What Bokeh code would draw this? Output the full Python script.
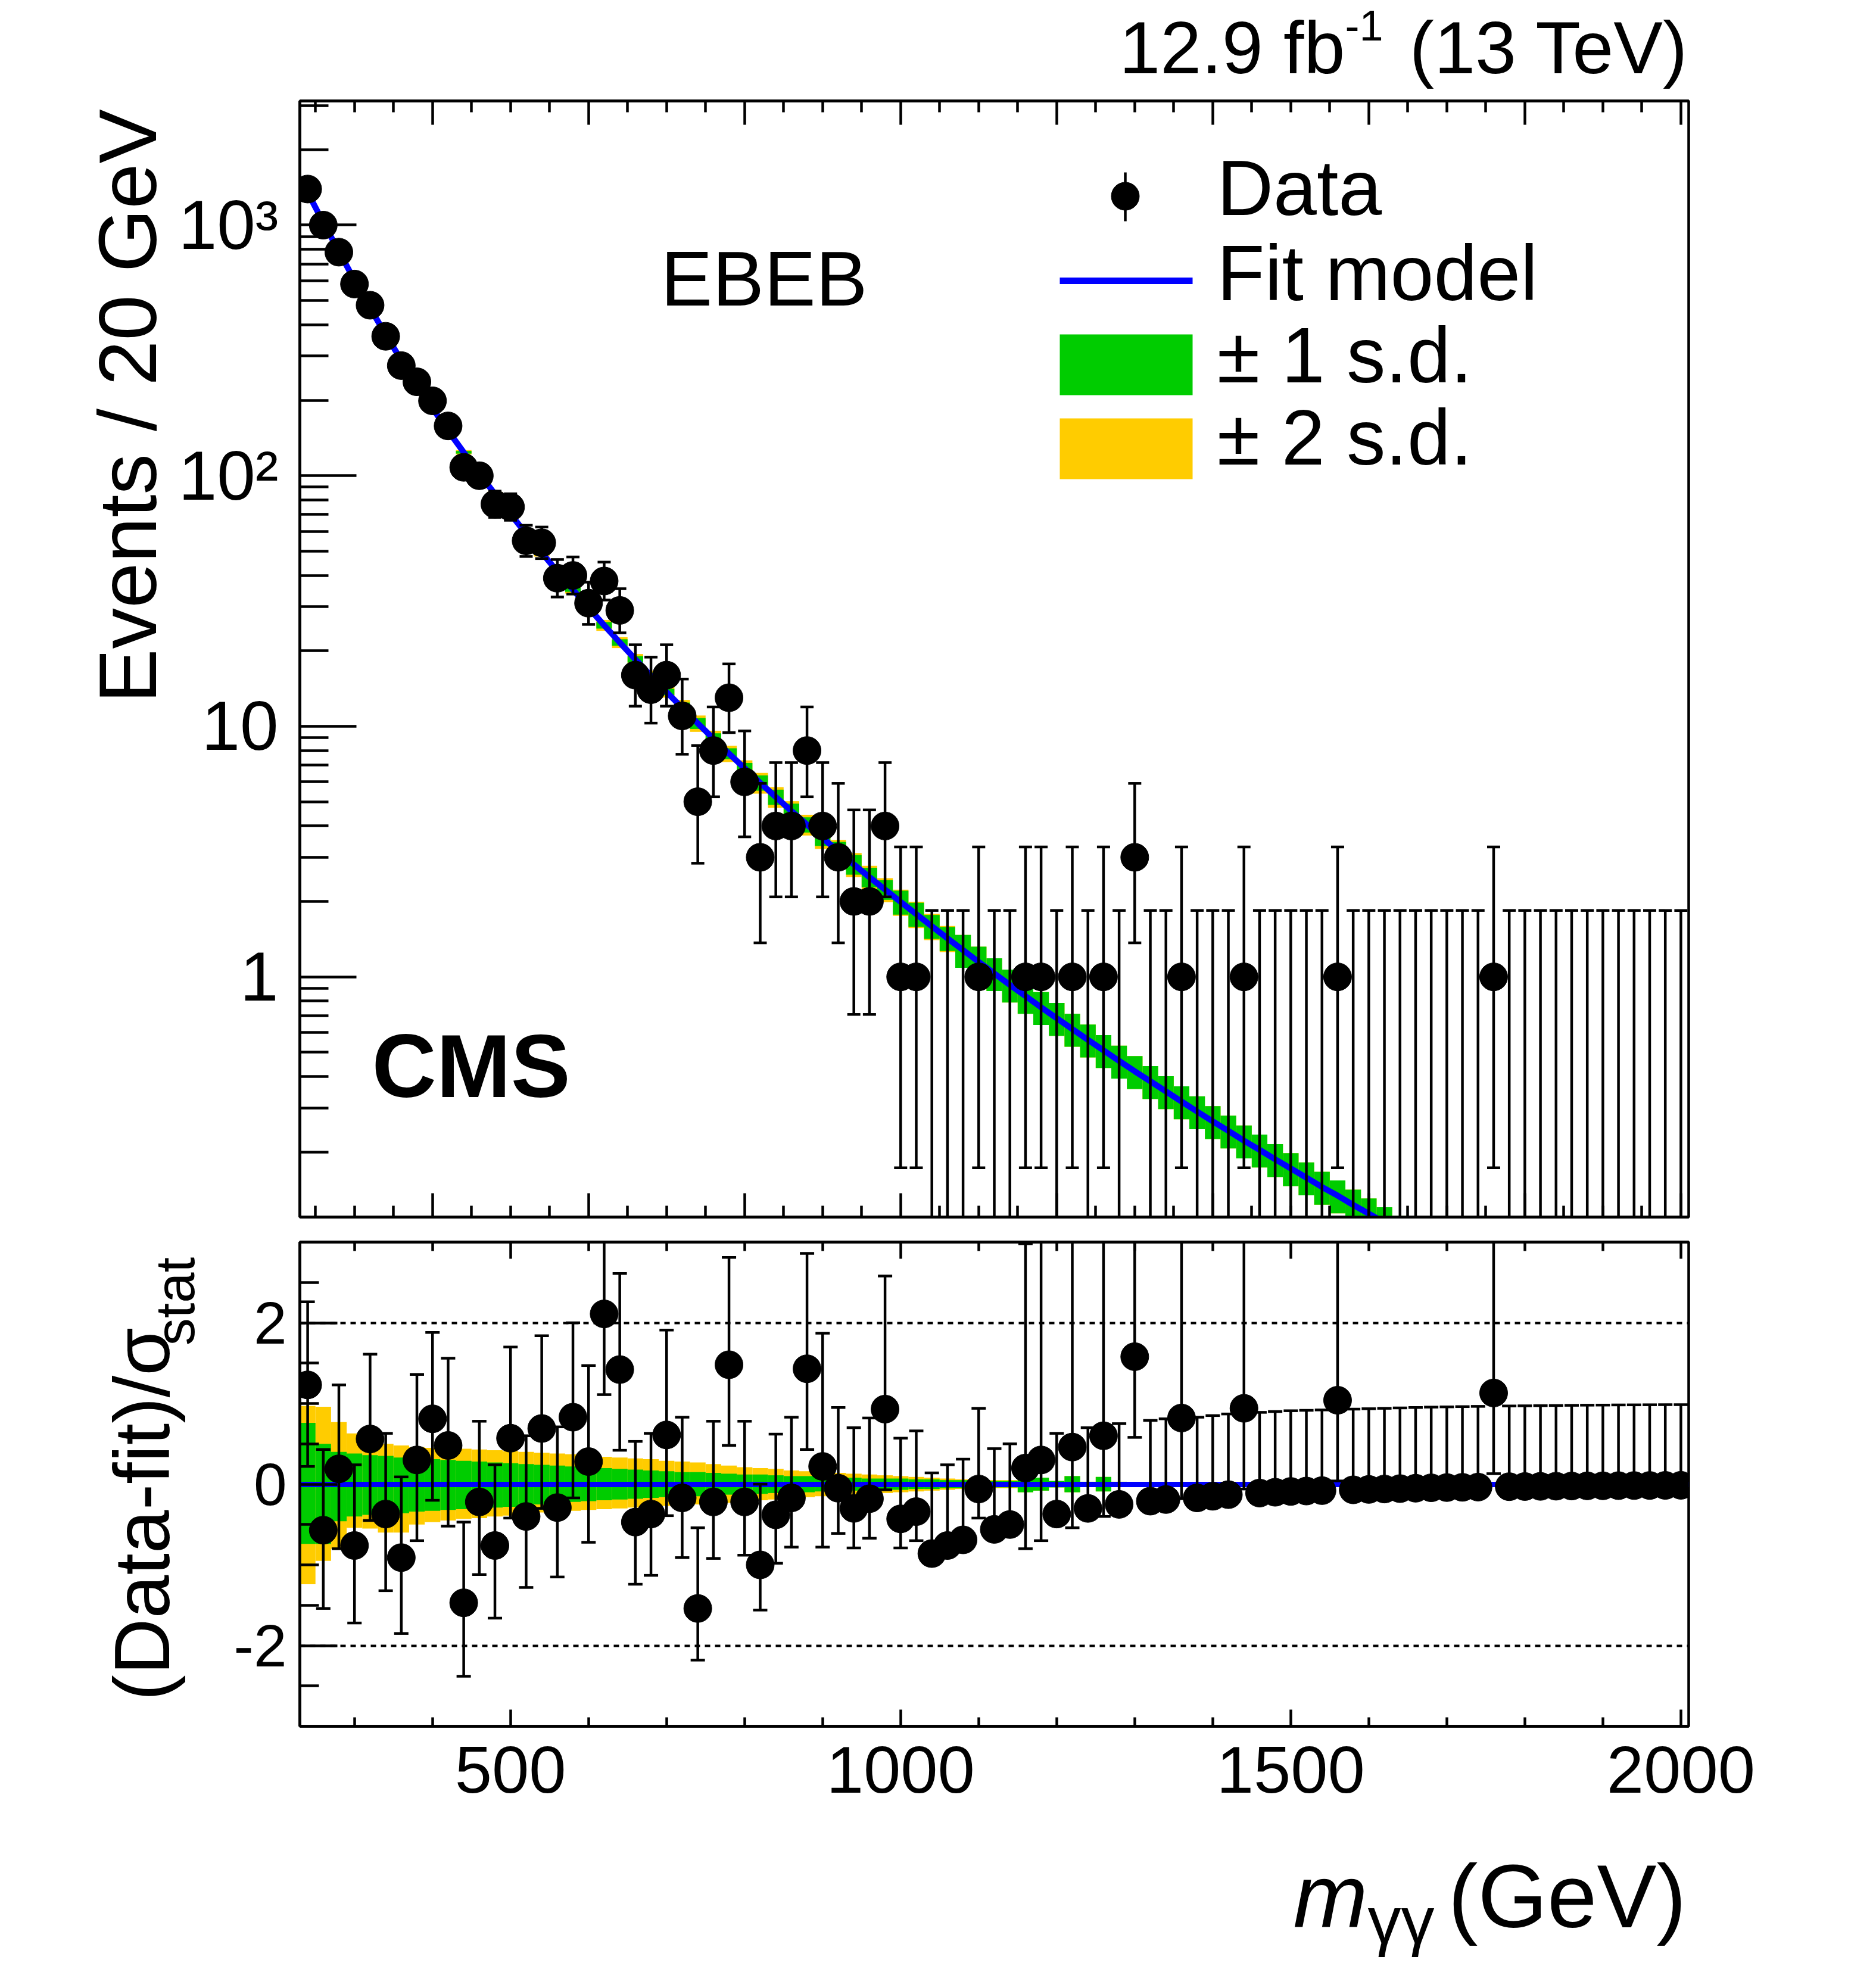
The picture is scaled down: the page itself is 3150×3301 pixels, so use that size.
import math
from bokeh.plotting import figure
from bokeh.models import FixedTicker, LinearAxis, Label
from bokeh.layouts import column, row
from bokeh.embed import file_html
from bokeh.resources import INLINE

# ------------------------------------------------------------------ data
BIN_WIDTH = 20
mass = list(range(240, 2001, BIN_WIDTH))          # bin centres (GeV)

counts = [1393, 1000, 780, 582, 479, 360, 275, 237, 199, 158,
          108, 100, 77, 75, 55, 54, 39, 40, 31, 38,
          29, 16, 14, 16, 11, 5, 8, 13, 6, 3,
          4, 4, 8, 4, 3, 2, 2, 4, 1, 1,
          0, 0, 0, 1, 0, 0, 1, 1, 0, 1,
          0, 1, 0, 3, 0, 0, 1, 0, 0, 0,
          1, 0, 0, 0, 0, 0, 1, 0, 0, 0,
          0, 0, 0, 0, 0, 0, 1, 0, 0, 0,
          0, 0, 0, 0, 0, 0, 0, 0, 0]

# statistical (Poisson 68%) errors for the high-count bins
err_lo_high = [37.3, 31.6, 27.9, 24.1, 21.9, 19.0, 16.6, 15.4, 14.1, 12.6,
               10.4, 10.0, 8.8, 8.6, 7.4, 7.3, 6.2, 6.3, 5.5, 6.1, 5.4]
err_hi_high = [38.4, 32.6, 28.9, 25.1, 22.9, 20.0, 17.6, 16.4, 15.1, 13.6,
               11.4, 11.0, 9.8, 9.7, 8.4, 8.4, 7.3, 7.4, 6.6, 7.2, 6.4]
# Poisson 68% intervals for small counts
poisson_small = {0: (0.0, 1.841), 1: (0.827, 2.300), 2: (1.292, 2.638),
                 3: (1.633, 2.918), 4: (1.914, 3.162), 5: (2.159, 3.382),
                 6: (2.379, 3.583), 8: (2.768, 3.945), 11: (3.265, 4.434),
                 13: (3.563, 4.734), 14: (3.704, 4.877), 16: (3.972, 5.149)}

fit_model = [1350, 1025, 785, 603, 467, 366, 289, 230, 186, 151,
             124, 102, 84.5, 70.3, 58.7, 49.3, 41.5, 35.1, 29.7, 25.3,
             21.6, 18.5, 15.9, 13.7, 11.85, 10.27, 8.93, 7.78, 6.80, 5.95,
             5.22, 4.59, 4.05, 3.58, 3.17, 2.81, 2.50, 2.23, 1.99, 1.78,
             1.592, 1.425, 1.278, 1.147, 1.032, 0.929, 0.838, 0.756, 0.684, 0.619,
             0.561, 0.509, 0.462, 0.420, 0.383, 0.349, 0.318, 0.290, 0.265, 0.243,
             0.222, 0.204, 0.187, 0.172, 0.158, 0.145, 0.134, 0.123, 0.1135, 0.1047,
             0.0967, 0.0894, 0.0827, 0.0765, 0.0708, 0.0656, 0.0609, 0.0565, 0.0524, 0.0487,
             0.0453, 0.0421, 0.0392, 0.0365, 0.0340, 0.0317, 0.0296, 0.0276, 0.0258]

# relative half-widths of the fit uncertainty bands (upper panel)
band1_rel = ([0.012] * 13 + [0.02] * 6 + [0.03] * 5 + [0.05] * 5 + [0.07] * 5 +
             [0.09] * 4 + [0.11] * 4 + [0.15] * 47)
band2_rel = ([0.02] * 13 + [0.035] * 6 + [0.05] * 5 + [0.075] * 5 + [0.095] * 5 +
             [0.11] * 4 + [0.12] * 4 + [0.15] * 47)

# (data - fit) / sigma_stat
pull = [1.23, -0.57, 0.19, -0.76, 0.56, -0.37, -0.91, 0.30, 0.81, 0.48,
        -1.47, -0.22, -0.76, 0.57, -0.40, 0.69, -0.29, 0.83, 0.28, 2.11,
        1.42, -0.47, -0.37, 0.61, -0.17, -1.54, -0.22, 1.48, -0.22, -1.00,
        -0.38, -0.17, 1.43, 0.22, -0.05, -0.30, -0.18, 0.93, -0.43, -0.34,
        -0.86, -0.76, -0.69, -0.06, -0.56, -0.50, 0.20, 0.30, -0.37, 0.46,
        -0.30, 0.60, -0.25, 1.58, -0.21, -0.19, 0.82, -0.17, -0.15, -0.13,
        0.94, -0.11, -0.10, -0.09, -0.085, -0.08, 1.04, -0.07, -0.065, -0.06,
        -0.055, -0.05, -0.045, -0.042, -0.039, -0.036, 1.13, -0.031, -0.029, -0.027,
        -0.025, -0.023, -0.021, -0.020, -0.018, -0.017, -0.016, -0.015, -0.014]
pull_lo = [1.01, 0.97, 0.99, 0.96, 1.01, 0.95, 0.94, 1.00, 1.01, 1.00,
           0.91, 0.90, 0.90, 0.99, 0.88, 0.99, 0.86, 1.00, 1.00, 1.00,
           1.00, 0.77, 0.76, 1.00, 0.74, 0.64, 0.70, 1.00, 0.66, 0.56,
           0.60, 0.61, 1.00, 1.00, 0.56, 0.49, 0.49, 1.00, 0.36, 0.36,
           0, 0, 0, 0.36, 0, 0, 1.0, 1.0, 0, 1.0,
           0, 1.0, 0, 1.0, 0, 0, 1.0, 0, 0, 0,
           1.0, 0, 0, 0, 0, 0, 1.0, 0, 0, 0,
           0, 0, 0, 0, 0, 0, 1.0, 0, 0, 0,
           0, 0, 0, 0, 0, 0, 0, 0, 0]
pull_hi = [1.03, 1.00, 1.04, 1.00, 1.05, 1.00, 1.00, 1.06, 1.07, 1.08,
           1.00, 1.00, 1.00, 1.13, 1.00, 1.15, 1.00, 1.17, 1.19, 1.18,
           1.19, 1.00, 1.00, 1.30, 1.00, 1.00, 1.00, 1.33, 1.00, 1.00,
           1.00, 1.00, 1.43, 1.65, 1.00, 1.00, 1.00, 1.65, 1.00, 1.00,
           1, 1, 1, 1.0, 1, 1, 2.78, 2.78, 1, 2.78,
           1, 2.78, 1, 1.79, 1, 1, 2.78, 1, 1, 1,
           2.78, 1, 1, 1, 1, 1, 2.78, 1, 1, 1,
           1, 1, 1, 1, 1, 1, 2.78, 1, 1, 1,
           1, 1, 1, 1, 1, 1, 1, 1, 1]

# fit uncertainty bands in units of sigma_stat (lower panel)
pband1_up = [0.76, 0.50, 0.40, 0.38, 0.36, 0.35, 0.33, 0.32, 0.31, 0.30,
             0.29, 0.28, 0.27, 0.26, 0.25, 0.24, 0.23, 0.22, 0.21, 0.20,
             0.19, 0.18, 0.17, 0.16, 0.15, 0.15, 0.14, 0.13, 0.12, 0.12,
             0.11, 0.10, 0.10, 0.09, 0.08, 0.08, 0.07, 0.07, 0.07, 0.06,
             0.06, 0.05, 0.05, 0.05, 0.04, 0.04, 0.10, 0.08, 0.04, 0.10,
             0.03, 0.09, 0.03, 0.02, 0.02, 0.02] + [0.0] * 33
pband1_dn = [0.74, 0.74, 0.46, 0.40, 0.38, 0.37, 0.36, 0.34, 0.33, 0.32,
             0.31, 0.30, 0.29, 0.28, 0.26, 0.25, 0.24, 0.22, 0.21, 0.20,
             0.19, 0.18, 0.17, 0.16, 0.15, 0.15, 0.14, 0.13, 0.12, 0.12,
             0.11, 0.10, 0.10, 0.09, 0.08, 0.08, 0.07, 0.07, 0.07, 0.06,
             0.06, 0.05, 0.05, 0.05, 0.04, 0.04, 0.10, 0.08, 0.04, 0.10,
             0.03, 0.09, 0.03, 0.02, 0.02, 0.02] + [0.0] * 33
pband2_up = [0.97, 0.96, 0.77, 0.63, 0.60, 0.50, 0.48, 0.46, 0.45, 0.45,
             0.44, 0.43, 0.42, 0.41, 0.40, 0.39, 0.38, 0.37, 0.35, 0.34,
             0.33, 0.32, 0.31, 0.29, 0.28, 0.27, 0.25, 0.23, 0.21, 0.20,
             0.19, 0.17, 0.16, 0.15, 0.14, 0.13, 0.12, 0.11, 0.10, 0.09,
             0.08, 0.07, 0.06, 0.06, 0.05, 0.05, 0.10, 0.08, 0.04, 0.10,
             0.03, 0.09, 0.03, 0.02, 0.02, 0.02] + [0.0] * 33
pband2_dn = [1.24, 0.95, 0.80, 0.54, 0.55, 0.60, 0.60, 0.50, 0.47, 0.45,
             0.43, 0.42, 0.40, 0.39, 0.37, 0.35, 0.34, 0.33, 0.32, 0.31,
             0.30, 0.29, 0.28, 0.27, 0.26, 0.25, 0.24, 0.23, 0.22, 0.20,
             0.19, 0.17, 0.16, 0.15, 0.14, 0.13, 0.12, 0.11, 0.10, 0.09,
             0.08, 0.07, 0.06, 0.06, 0.05, 0.05, 0.10, 0.08, 0.04, 0.10,
             0.03, 0.09, 0.03, 0.02, 0.02, 0.02] + [0.0] * 33

ref_levels = [-2, 2]

upper_y_labels = {1: "1", 10: "10", 100: "10\u00b2", 1000: "10\u00b3"}
lower_y_labels = {-2: "-2", 0: "0", 2: "2"}
lower_x_labels = {500: "500", 1000: "1000", 1500: "1500", 2000: "2000"}

# ------------------------------------------------------------------ style / layout (page pixels)
FONT = "Liberation Sans"
GREEN = "#00cc00"
YELLOW = "#ffcc00"
BLUE = "#0000ff"
LW = 4.5
X_RANGE = (230, 2010)
Y_RANGE = (0.11, 3130)
PULL_RANGE = (-3, 3)
PAGE_W = 3130
FRAME_L, FRAME_R = 503, 2835
TOP_T, TOP_B = 169, 2043
BOT_T, BOT_B = 2085, 2898
HEAD_H = 149                 # title strip height
L1_W, L2_W = 296, 378        # widths of the strips holding the y titles
P1_PAD_T, P1_PAD_B = TOP_T - HEAD_H, 20
P2_PAD_T = BOT_T - (TOP_B + P1_PAD_B)
P2_PAD_B = 185
FOOT_T = BOT_B + P2_PAD_B
FOOT_H = 215
BASE_SHIFT = 0.34            # label anchor -> alphabetic baseline offset (in em)

LOG_T, LOG_B = math.log10(Y_RANGE[1]), math.log10(Y_RANGE[0])


def x_of(px):
    return X_RANGE[0] + (px - FRAME_L) * (X_RANGE[1] - X_RANGE[0]) / (FRAME_R - FRAME_L)


def ytop_of(py):
    return 10 ** (LOG_T - (py - TOP_T) * (LOG_T - LOG_B) / (TOP_B - TOP_T))


def style_axis(ax, ticker, major_len, minor_len, labels=None, size=None, standoff=0):
    ax.ticker = ticker
    ax.major_tick_in = major_len
    ax.major_tick_out = 0
    ax.minor_tick_in = minor_len
    ax.minor_tick_out = 0
    ax.major_tick_line_width = LW
    ax.minor_tick_line_width = LW
    ax.major_tick_line_color = "black"
    ax.minor_tick_line_color = "black"
    ax.axis_line_width = LW
    ax.axis_line_color = "black"
    ax.major_label_text_font = FONT
    ax.major_label_standoff = standoff
    if size is None:
        ax.major_label_text_color = None
        ax.major_label_text_font_size = "1px"
    else:
        ax.major_label_text_color = "black"
        ax.major_label_text_font_size = size
    if labels:
        ax.major_label_overrides = labels


def plot_fig(frame_h, pad_l, pad_t, pad_b, y_type, y_range):
    p = figure(x_range=X_RANGE, y_range=y_range, y_axis_type=y_type,
               frame_width=FRAME_R - FRAME_L, frame_height=frame_h,
               min_border_left=pad_l, min_border_right=PAGE_W - FRAME_R,
               min_border_top=pad_t, min_border_bottom=pad_b,
               output_backend="svg", toolbar_location=None)
    p.xgrid.visible = False
    p.ygrid.visible = False
    p.outline_line_color = "black"
    p.outline_line_width = LW
    p.background_fill_color = "white"
    p.border_fill_color = "white"
    return p


def text_fig(w, h):
    f = figure(width=w, height=h, x_range=(0, w), y_range=(h, 0), min_border=0,
               x_axis_type=None, y_axis_type=None, toolbar_location=None,
               output_backend="svg")
    f.outline_line_color = None
    f.background_fill_color = "white"
    f.border_fill_color = "white"
    return f


def label(p, text, x, y, size, align="left", angle=0, style="normal"):
    p.add_layout(Label(x=x, y=y, text=text, text_font=FONT,
                       text_font_size=f"{size}px", text_align=align,
                       text_baseline="alphabetic", angle=angle, angle_units="deg",
                       text_font_style=style, text_color="black"))


def flat_text(p, text, px, base_py, y0, size, align="left", style="normal"):
    """horizontal text in a strip whose top is at page y0 (y grows downwards)"""
    label(p, text, px, base_py - y0 - BASE_SHIFT * size, size, align, 0, style)


def frame_text(p, text, px, base_py, size, align="left", style="normal"):
    label(p, text, x_of(px), ytop_of(base_py - BASE_SHIFT * size), size, align, 0, style)


def vert_text(p, text, base_px, end_py, y0, size):
    label(p, text, base_px - BASE_SHIFT * size, end_py - y0, size, "right", 90)


half = BIN_WIDTH / 2
left = [m - half for m in mass]
right = [m + half for m in mass]

# ------------------------------------------------------------------ title strip
head = text_fig(PAGE_W, HEAD_H)
flat_text(head, "12.9 fb", 2258, 122, 0, 124, "right")
flat_text(head, "-1", 2258, 67, 0, 72)
flat_text(head, "(13 TeV)", 2835, 122, 0, 124, "right")

# ------------------------------------------------------------------ upper panel
p1 = plot_fig(TOP_B - TOP_T, FRAME_L - L1_W, P1_PAD_T, P1_PAD_B, "log", Y_RANGE)

up_major = list(range(400, 2001, 200))
up_minor = [v for v in range(250, 2001, 50) if v % 200]
style_axis(p1.xaxis[0], FixedTicker(ticks=up_major, minor_ticks=up_minor), 40, 19)
top_ax1 = LinearAxis()
style_axis(top_ax1, FixedTicker(ticks=up_major, minor_ticks=up_minor), 40, 19)
p1.add_layout(top_ax1, "above")

y_minor = [m * 10 ** e for e in (-1, 0, 1, 2) for m in range(2, 10)] + [2000, 3000]
style_axis(p1.yaxis[0], FixedTicker(ticks=list(upper_y_labels), minor_ticks=y_minor),
           95, 48, upper_y_labels, "116px", 36)

y2_lo = [f * (1 - r) for f, r in zip(fit_model, band2_rel)]
y2_hi = [f * (1 + r) for f, r in zip(fit_model, band2_rel)]
y1_lo = [f * (1 - r) for f, r in zip(fit_model, band1_rel)]
y1_hi = [f * (1 + r) for f, r in zip(fit_model, band1_rel)]
p1.quad(left=left, right=right, bottom=y2_lo, top=y2_hi, fill_color=YELLOW, line_color=None)
p1.quad(left=left, right=right, bottom=y1_lo, top=y1_hi, fill_color=GREEN, line_color=None)
p1.line(mass, fit_model, line_color=BLUE, line_width=10)

errs = []
for i, n in enumerate(counts):
    if i < len(err_lo_high):
        errs.append((err_lo_high[i], err_hi_high[i]))
    else:
        errs.append(poisson_small[n])
Y_FLOOR = 1e-4
e_low = [max(n - e[0], Y_FLOOR) for n, e in zip(counts, errs)]
e_high = [n + e[1] for n, e in zip(counts, errs)]
p1.segment(x0=mass, y0=e_low, x1=mass, y1=e_high, line_color="black", line_width=LW)
p1.scatter(mass, e_high, marker="dash", size=22, line_color="black", line_width=LW)
nz = [i for i, n in enumerate(counts) if n > 0]
p1.scatter([mass[i] for i in nz], [e_low[i] for i in nz], marker="dash", size=22,
           line_color="black", line_width=LW)
p1.scatter([mass[i] for i in nz], [counts[i] for i in nz], size=47,
           fill_color="black", line_color="black")

# legend (manually laid out, page pixel positions)
LEG_X0, LEG_X1, LEG_XC = 1779, 2002, 1889
p1.quad(left=[x_of(LEG_X0)], right=[x_of(LEG_X1)], top=[ytop_of(561)], bottom=[ytop_of(663)],
        fill_color=GREEN, line_color=None)
p1.quad(left=[x_of(LEG_X0)], right=[x_of(LEG_X1)], top=[ytop_of(702)], bottom=[ytop_of(804)],
        fill_color=YELLOW, line_color=None)
p1.line([x_of(LEG_X0), x_of(LEG_X1)], [ytop_of(471), ytop_of(471)], line_color=BLUE, line_width=11)
p1.segment(x0=[x_of(LEG_XC)], y0=[ytop_of(371)], x1=[x_of(LEG_XC)], y1=[ytop_of(289)],
           line_color="black", line_width=LW)
p1.scatter([x_of(LEG_XC)], [ytop_of(329)], size=47, fill_color="black", line_color="black")
for txt, base in [("Data", 360), ("Fit model", 503), ("\u00b1 1 s.d.", 641), ("\u00b1 2 s.d.", 779)]:
    frame_text(p1, txt, 2043, base, 131)

frame_text(p1, "EBEB", 1109, 512, 130)
frame_text(p1, "CMS", 624, 1840, 150, style="bold")

strip1 = text_fig(L1_W, TOP_B + P1_PAD_B - HEAD_H)
vert_text(strip1, "Events / 20 GeV", 261, 163, HEAD_H, 137)

# ------------------------------------------------------------------ lower panel
p2 = plot_fig(BOT_B - BOT_T, FRAME_L - L2_W, P2_PAD_T, P2_PAD_B, "linear", PULL_RANGE)

lo_major = list(lower_x_labels)
lo_minor = [v for v in range(300, 2001, 100) if v % 500]
style_axis(p2.xaxis[0], FixedTicker(ticks=lo_major, minor_ticks=lo_minor), 28, 15,
           lower_x_labels, "112px", 34)
top_ax2 = LinearAxis()
style_axis(top_ax2, FixedTicker(ticks=lo_major, minor_ticks=lo_minor), 28, 15)
p2.add_layout(top_ax2, "above")
style_axis(p2.yaxis[0], FixedTicker(ticks=list(lower_y_labels),
                                    minor_ticks=[-2.5, -1.5, -1, -0.5, 0.5, 1, 1.5, 2.5]),
           63, 32, lower_y_labels, "100px", 22)

p2.quad(left=left, right=right, bottom=[-v for v in pband2_dn], top=pband2_up,
        fill_color=YELLOW, line_color=None)
p2.quad(left=left, right=right, bottom=[-v for v in pband1_dn], top=pband1_up,
        fill_color=GREEN, line_color=None)
p2.hspan(y=[0], line_color=BLUE, line_width=9)
p2.hspan(y=ref_levels, line_color="black", line_width=4, line_dash="9 8")

pl = [v - d for v, d in zip(pull, pull_lo)]
ph = [v + u for v, u in zip(pull, pull_hi)]
p2.segment(x0=mass, y0=pl, x1=mass, y1=ph, line_color="black", line_width=LW)
p2.scatter(mass, ph, marker="dash", size=24, line_color="black", line_width=LW)
has_lo = [i for i, d in enumerate(pull_lo) if d > 0]
p2.scatter([mass[i] for i in has_lo], [pl[i] for i in has_lo], marker="dash", size=24,
           line_color="black", line_width=LW)
p2.scatter(mass, pull, size=47, fill_color="black", line_color="black")

strip2_top = TOP_B + P1_PAD_B
strip2 = text_fig(L2_W, FOOT_T - strip2_top)
vert_text(strip2, "(Data-fit)/\u03c3", 283, 2243, strip2_top, 131)
vert_text(strip2, "stat", 325, 2095, strip2_top, 92)

# ------------------------------------------------------------------ x-axis title strip
foot = text_fig(PAGE_W, FOOT_H)
flat_text(foot, "m", 2171, 3234, FOOT_T, 150, style="italic")
flat_text(foot, "\u03b3\u03b3", 2296, 3262, FOOT_T, 112)
flat_text(foot, "(GeV)", 2831, 3234, FOOT_T, 150, "right")

layout = column(head, row(strip1, p1), row(strip2, p2), foot)
open("out.html", "w").write(file_html(layout, INLINE, "EBEB diphoton mass"))
